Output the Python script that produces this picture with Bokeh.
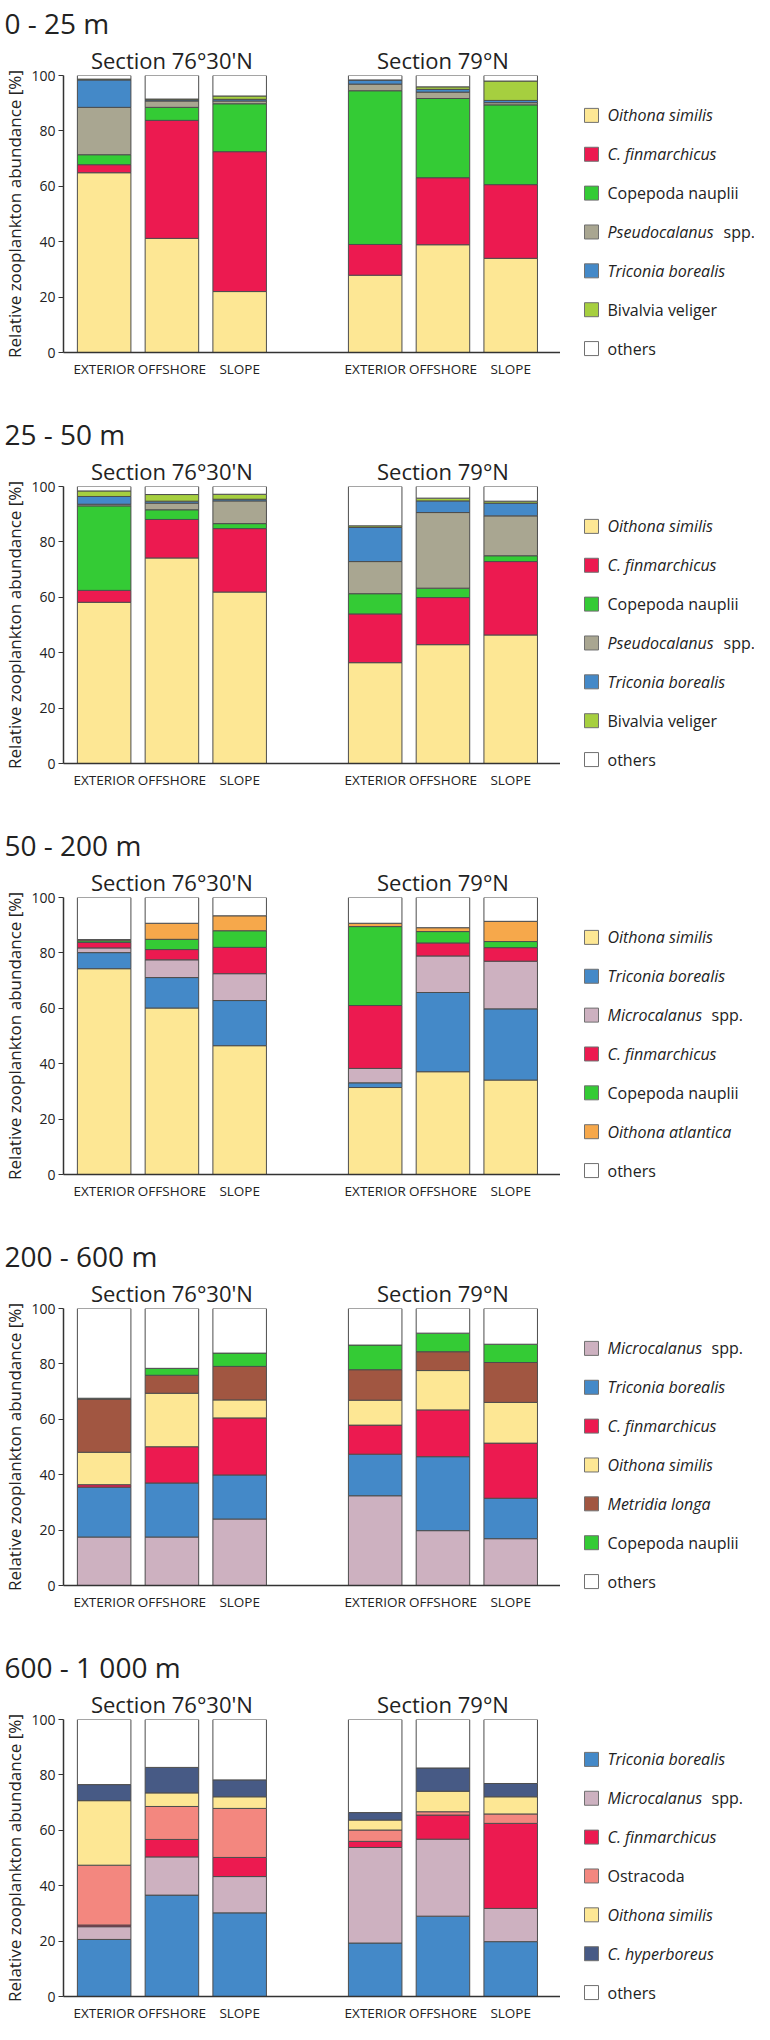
from bokeh.plotting import figure
from bokeh.layouts import column, row
from bokeh.models import Range1d, FixedTicker, ColumnDataSource, LinearAxis
from bokeh.embed import file_html
from bokeh.resources import INLINE
from bokeh.core.properties import value

# ---------------- data ----------------
categories = ["EXTERIOR", "OFFSHORE", "SLOPE"]
sections = ["Section 76°30'N", "Section 79°N"]
depth_titles = ["0 - 25 m", "25 - 50 m", "50 - 200 m", "200 - 600 m", "600 - 1 000 m"]
y_ticks = [0, 20, 40, 60, 80, 100]
y_label = "Relative zooplankton abundance [%]"
# order of bars: 76°30'N EXTERIOR, OFFSHORE, SLOPE, 79°N EXTERIOR, OFFSHORE, SLOPE

# 0 - 25 m
d1_oithona_similis = [64.9, 41.2, 22.0, 27.9, 38.9, 34.0]
d1_c_finmarchicus = [2.9, 42.6, 50.5, 11.1, 24.2, 26.6]
d1_copepoda_nauplii = [3.6, 4.7, 17.3, 55.5, 28.6, 28.8]
d1_pseudocalanus = [17.1, 2.3, 1.0, 2.4, 2.3, 0.8]
d1_triconia_borealis = [9.9, 0.4, 0.6, 1.5, 1.0, 0.8]
d1_bivalvia_veliger = [0.3, 0.3, 1.2, 0.0, 0.9, 7.0]
d1_others = [1.3, 8.5, 7.4, 1.6, 4.1, 2.0]

# 25 - 50 m
d2_oithona_similis = [58.2, 74.2, 61.9, 36.4, 42.9, 46.4]
d2_c_finmarchicus = [4.3, 13.9, 22.9, 17.6, 17.0, 26.5]
d2_copepoda_nauplii = [30.5, 3.5, 1.8, 7.3, 3.4, 2.1]
d2_pseudocalanus = [0.6, 2.4, 8.2, 11.6, 27.3, 14.4]
d2_triconia_borealis = [2.8, 0.7, 0.6, 12.3, 4.2, 4.6]
d2_bivalvia_veliger = [2.0, 2.4, 1.8, 0.6, 1.0, 0.7]
d2_others = [1.6, 2.9, 2.8, 14.2, 4.2, 5.3]

# 50 - 200 m
d3_oithona_similis = [74.3, 60.1, 46.5, 31.4, 37.1, 34.1]
d3_triconia_borealis = [5.8, 11.0, 16.3, 1.7, 28.6, 25.7]
d3_microcalanus = [1.7, 6.4, 9.7, 5.2, 13.2, 17.2]
d3_c_finmarchicus = [2.0, 3.7, 9.5, 22.7, 4.7, 4.9]
d3_copepoda_nauplii = [0.6, 3.7, 6.0, 28.5, 4.1, 2.2]
d3_oithona_atlantica = [0.4, 5.8, 5.4, 1.2, 1.4, 7.3]
d3_others = [15.2, 9.3, 6.6, 9.3, 10.9, 8.6]

# 200 - 600 m
d4_microcalanus = [17.5, 17.5, 24.0, 32.4, 19.8, 16.9]
d4_triconia_borealis = [18.0, 19.5, 15.9, 15.0, 26.7, 14.6]
d4_c_finmarchicus = [0.9, 13.1, 20.6, 10.5, 16.9, 19.9]
d4_oithona_similis = [11.7, 19.3, 6.5, 9.0, 14.2, 14.7]
d4_metridia_longa = [19.2, 6.5, 12.1, 11.0, 6.8, 14.4]
d4_copepoda_nauplii = [0.3, 2.5, 4.8, 8.9, 6.7, 6.6]
d4_others = [32.4, 21.6, 16.1, 13.2, 8.9, 12.9]

# 600 - 1000 m
d5_triconia_borealis = [20.6, 36.6, 30.2, 19.3, 29.0, 19.8]
d5_microcalanus = [4.6, 13.8, 13.1, 34.5, 27.8, 12.0]
d5_c_finmarchicus = [0.6, 6.3, 6.9, 2.2, 8.7, 30.7]
d5_ostracoda = [21.6, 11.9, 17.7, 4.1, 1.2, 3.4]
d5_oithona_similis = [23.3, 4.9, 4.2, 3.6, 7.4, 6.2]
d5_c_hyperboreus = [5.8, 9.2, 6.1, 2.7, 8.4, 4.8]
d5_others = [23.5, 17.3, 21.8, 33.6, 17.5, 23.1]

panels = [
    [("oithona_similis", d1_oithona_similis), ("c_finmarchicus", d1_c_finmarchicus),
     ("copepoda_nauplii", d1_copepoda_nauplii), ("pseudocalanus", d1_pseudocalanus),
     ("triconia_borealis", d1_triconia_borealis), ("bivalvia_veliger", d1_bivalvia_veliger),
     ("others", d1_others)],
    [("oithona_similis", d2_oithona_similis), ("c_finmarchicus", d2_c_finmarchicus),
     ("copepoda_nauplii", d2_copepoda_nauplii), ("pseudocalanus", d2_pseudocalanus),
     ("triconia_borealis", d2_triconia_borealis), ("bivalvia_veliger", d2_bivalvia_veliger),
     ("others", d2_others)],
    [("oithona_similis", d3_oithona_similis), ("triconia_borealis", d3_triconia_borealis),
     ("microcalanus", d3_microcalanus), ("c_finmarchicus", d3_c_finmarchicus),
     ("copepoda_nauplii", d3_copepoda_nauplii), ("oithona_atlantica", d3_oithona_atlantica),
     ("others", d3_others)],
    [("microcalanus", d4_microcalanus), ("triconia_borealis", d4_triconia_borealis),
     ("c_finmarchicus", d4_c_finmarchicus), ("oithona_similis", d4_oithona_similis),
     ("metridia_longa", d4_metridia_longa), ("copepoda_nauplii", d4_copepoda_nauplii),
     ("others", d4_others)],
    [("triconia_borealis", d5_triconia_borealis), ("microcalanus", d5_microcalanus),
     ("c_finmarchicus", d5_c_finmarchicus), ("ostracoda", d5_ostracoda),
     ("oithona_similis", d5_oithona_similis), ("c_hyperboreus", d5_c_hyperboreus),
     ("others", d5_others)],
]

# legend text: (main part, style of main part, suffix in normal style)
legend_names = {
    "oithona_similis": ("Oithona similis", "italic", ""),
    "c_finmarchicus": ("C. finmarchicus", "italic", ""),
    "copepoda_nauplii": ("Copepoda nauplii", "normal", ""),
    "pseudocalanus": ("Pseudocalanus", "italic", "spp."),
    "triconia_borealis": ("Triconia borealis", "italic", ""),
    "bivalvia_veliger": ("Bivalvia veliger", "normal", ""),
    "microcalanus": ("Microcalanus", "italic", "spp."),
    "oithona_atlantica": ("Oithona atlantica", "italic", ""),
    "metridia_longa": ("Metridia longa", "italic", ""),
    "ostracoda": ("Ostracoda", "normal", ""),
    "c_hyperboreus": ("C. hyperboreus", "italic", ""),
    "others": ("others", "normal", ""),
}
suffix_dx = {"pseudocalanus": 116, "microcalanus": 104}

# ---------------- style ----------------
colors = {
    "oithona_similis": "#FDE794",
    "c_finmarchicus": "#EC1A50",
    "copepoda_nauplii": "#34CB35",
    "pseudocalanus": "#A9A691",
    "triconia_borealis": "#4489C8",
    "bivalvia_veliger": "#A6CF3F",
    "microcalanus": "#CDB1C0",
    "oithona_atlantica": "#F6A84B",
    "metridia_longa": "#A15641",
    "ostracoda": "#F3877F",
    "c_hyperboreus": "#475A85",
    "others": "#FFFFFF",
}
FONT = "Open Sans"
TXT = "#222222"
bar_x = [0, 1, 2, 4, 5, 6]
W_MAIN, W_LEG = 560, 194
HEIGHTS = [411, 411, 411, 411, 380]
Y100 = 75       # pixel offset of the 100 % line (= frame top) from the figure top
FRAME_H = 277   # pixels for 0..100 %
B_LEFT = 59
PER_PX = 100.0 / FRAME_H
LEG_TOP, LEG_STEP = 85.6, 14.03   # legend rows, in % of the panel height scale
LEG_BOX_X, LEG_TEXT_X = 31, 47


def make_panel(idx):
    h = HEIGHTS[idx]
    layers = panels[idx]
    keys = [k for k, _ in layers]
    p = figure(width=W_MAIN, height=h, x_range=Range1d(-0.6, 6.735), y_range=Range1d(0, 100),
               output_backend="svg", toolbar_location=None,
               min_border_left=B_LEFT, min_border_right=0, min_border_top=Y100,
               min_border_bottom=h - Y100 - FRAME_H)
    p.outline_line_color = None
    p.xgrid.grid_line_color = None
    p.ygrid.grid_line_color = None
    p.background_fill_color = "white"
    p.border_fill_color = "white"

    data = {"x": bar_x}
    for k, vals in layers:
        data[k] = vals
    src = ColumnDataSource(data)
    p.vbar_stack(keys, x="x", width=0.79, source=src,
                 fill_color=[colors[k] for k in keys], line_color="#4d4d4d", line_width=1)

    # y axis
    p.yaxis.ticker = FixedTicker(ticks=y_ticks)
    p.yaxis.axis_label = y_label
    p.yaxis.axis_label_text_font = FONT
    p.yaxis.axis_label_text_font_style = "normal"
    p.yaxis.axis_label_text_font_size = "17px"
    p.yaxis.axis_label_text_color = TXT
    p.yaxis.axis_label_standoff = 2
    p.yaxis.major_label_text_font = FONT
    p.yaxis.major_label_text_font_size = "14px"
    p.yaxis.major_label_text_color = TXT
    p.yaxis.major_label_standoff = 3
    p.yaxis.major_tick_out = 5
    p.yaxis.major_tick_in = 0
    p.yaxis.minor_tick_out = 0
    p.yaxis.minor_tick_in = 0
    p.yaxis.axis_line_color = "#333333"
    p.yaxis.axis_line_width = 1.5
    p.yaxis.major_tick_line_color = "#333333"

    # x axis with category names
    p.xaxis.ticker = FixedTicker(ticks=bar_x)
    p.xaxis.major_label_overrides = {bx: categories[i % 3] for i, bx in enumerate(bar_x)}
    p.xaxis.major_label_text_font = FONT
    p.xaxis.major_label_text_font_size = "13.5px"
    p.xaxis.major_label_text_color = TXT
    p.xaxis.major_label_standoff = 7
    p.xaxis.major_tick_out = 0
    p.xaxis.major_tick_in = 0
    p.xaxis.minor_tick_out = 0
    p.xaxis.minor_tick_in = 0
    p.xaxis.axis_line_color = "#333333"
    p.xaxis.axis_line_width = 1.5

    # section titles as an axis directly above the bars
    centers = [sum(bar_x[3 * s:3 * s + 3]) // 3 for s in range(len(sections))]
    top_axis = LinearAxis(ticker=FixedTicker(ticks=centers),
                          major_label_overrides={c: sections[s] for s, c in enumerate(centers)})
    top_axis.axis_line_color = None
    top_axis.major_tick_line_color = None
    top_axis.minor_tick_line_color = None
    top_axis.major_tick_out = 0
    top_axis.major_tick_in = 0
    top_axis.minor_tick_out = 0
    top_axis.minor_tick_in = 0
    top_axis.major_label_standoff = 1
    top_axis.major_label_text_font = FONT
    top_axis.major_label_text_font_size = "22px"
    top_axis.major_label_text_color = TXT
    p.add_layout(top_axis, "above")

    # panel title (depth layer)
    p.title.text = depth_titles[idx]
    p.title.text_font = FONT
    p.title.text_font_size = "28px"
    p.title.text_font_style = "normal"
    p.title.text_color = TXT
    p.title.align = "left"
    p.title.offset = -B_LEFT
    p.title.standoff = 0
    return p


def make_legends():
    # one tall figure whose y scale is the pixel offset from the top of the chart column
    total_h = sum(HEIGHTS)
    lp = figure(width=W_LEG, height=total_h, x_range=Range1d(0, W_LEG),
                y_range=Range1d(total_h, 0),
                output_backend="svg", toolbar_location=None, title=None,
                x_axis_location=None, y_axis_location=None,
                min_border_left=0, min_border_right=0, min_border_top=0, min_border_bottom=0)
    lp.outline_line_color = None
    lp.grid.visible = False
    ys, cs, ts, sts = [], [], [], []
    sx, sy, stt = [], [], []
    top = 0
    for idx, layers in enumerate(panels):
        for i, (k, _) in enumerate(layers):
            pct = LEG_TOP - LEG_STEP * i
            yy = top + Y100 + (100 - pct) / PER_PX
            ys.append(yy)
            cs.append(colors[k])
            ts.append(legend_names[k][0])
            sts.append(legend_names[k][1])
            if legend_names[k][2]:
                sx.append(LEG_TEXT_X + suffix_dx[k])
                sy.append(yy)
                stt.append(legend_names[k][2])
        top += HEIGHTS[idx]
    src = ColumnDataSource(dict(y=ys, c=cs, t=ts, st=sts))
    lp.rect(x=LEG_BOX_X, y="y", width=14, height=14, width_units="screen", height_units="screen",
            fill_color="c", line_color="#707070", line_width=1, source=src)
    lp.text(x=LEG_TEXT_X, y="y", text="t", text_font=value(FONT), text_font_style="st",
            text_font_size="16px", text_color=TXT, text_baseline="middle", source=src)
    lp.text(x=sx, y=sy, text=stt, text_font=value(FONT), text_font_style="normal",
            text_font_size="16px", text_color=TXT, text_baseline="middle")
    return lp


charts = column(*[make_panel(i) for i in range(len(panels))])
layout = row(charts, make_legends())

open("out.html", "w").write(file_html(layout, INLINE))
